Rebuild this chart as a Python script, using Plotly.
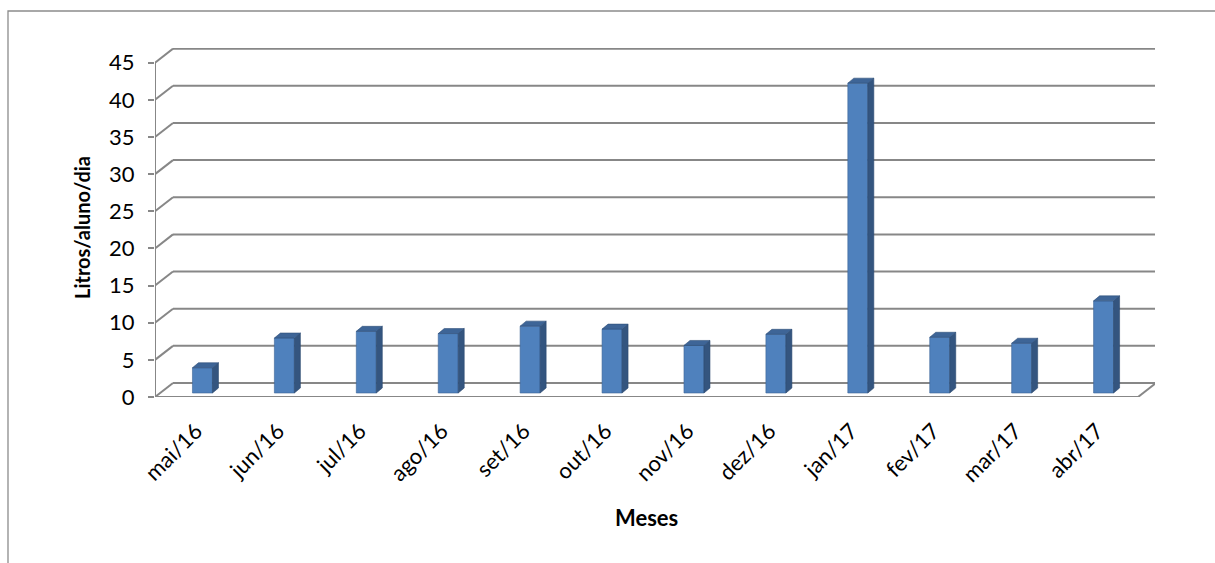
import plotly.graph_objects as go

# ---- data ----
months = ["mai/16", "jun/16", "jul/16", "ago/16", "set/16", "out/16",
          "nov/16", "dez/16", "jan/17", "fev/17", "mar/17", "abr/17"]
litros = [3.4, 7.4, 8.3, 8.0, 9.0, 8.6, 6.4, 7.9, 41.7, 7.5, 6.7, 12.4]
y_ticks = [0, 5, 10, 15, 20, 25, 30, 35, 40, 45]

# ---- geometry (pseudo 3-D, in axis units) ----
W, H = 1215, 563
L_PX, R_PX, T_PX, B_PX = 155, 1155, 48, 397
UX = 81.92          # px per category
UY = 7.43           # px per y unit
x_lo = -0.5
x_hi = x_lo + (R_PX - L_PX) / UX
y_hi = (B_PX - T_PX) / UY
DX, DY = 18 / UX, 14 / UY          # back-wall offset
BX, BY = 6.5 / UX, 4 / UY          # bar depth offset
BW = 20 / UX                       # bar front width
SX, SY = 6 / UX, 5 / UY            # bar side depth

n = len(months)
idx = list(range(n))

GRID = "#878787"
shapes = []
for v in y_ticks:
    shapes.append(dict(type="line", xref="x", yref="y", layer="below",
                       x0=x_lo + DX, x1=n - 0.5 + DX, y0=v + DY, y1=v + DY,
                       line=dict(color=GRID, width=2)))
    shapes.append(dict(type="line", xref="x", yref="y", layer="below",
                       x0=x_lo, x1=x_lo + DX, y0=v, y1=v + DY,
                       line=dict(color=GRID, width=2)))
# floor front edge and right edge
shapes.append(dict(type="line", xref="x", yref="y", layer="below",
                   x0=x_lo, x1=n - 0.5, y0=0, y1=0, line=dict(color=GRID, width=2)))
shapes.append(dict(type="line", xref="x", yref="y", layer="below",
                   x0=n - 0.5, x1=n - 0.5 + DX, y0=0, y1=DY, line=dict(color=GRID, width=2)))
# value axis line
shapes.append(dict(type="line", xref="x", yref="y", layer="below",
                   x0=x_lo, x1=x_lo, y0=0, y1=y_ticks[-1], line=dict(color=GRID, width=2)))
# outer chart border
shapes.append(dict(type="rect", xref="paper", yref="paper", layer="below",
                   x0=(8 - L_PX) / (R_PX - L_PX), x1=(W + 10 - L_PX) / (R_PX - L_PX),
                   y0=(B_PX - H - 10) / (B_PX - T_PX), y1=(B_PX - 11) / (B_PX - T_PX),
                   line=dict(color="#8c8c8c", width=1.3)))

fig = go.Figure()

# front faces
bx = [i + BX for i in idx]
fig.add_trace(go.Bar(x=bx, y=litros, base=BY, width=BW,
                     marker=dict(color="#4f81bd", line=dict(color="#3d6597", width=0.6)),
                     hoverinfo="skip", showlegend=False))

# side faces and tops
side_x, side_y, top_x, top_y = [], [], [], []
for c, v in zip(bx, litros):
    x1 = c + BW / 2
    x0 = c - BW / 2
    side_x += [x1, x1 + SX, x1 + SX, x1, x1, None]
    side_y += [BY, BY + SY, BY + v + SY, BY + v, BY, None]
    top_x += [x0, x0 + SX, x1 + SX, x1, x0, None]
    top_y += [BY + v, BY + v + SY, BY + v + SY, BY + v, BY + v, None]
fig.add_trace(go.Scatter(x=side_x, y=side_y, mode="lines", fill="toself",
                         fillcolor="#34557f", line=dict(color="#2c4a70", width=0.6),
                         hoverinfo="skip", showlegend=False))
fig.add_trace(go.Scatter(x=top_x, y=top_y, mode="lines", fill="toself",
                         fillcolor="#3e6597", line=dict(color="#2f4f78", width=0.6),
                         hoverinfo="skip", showlegend=False))

FONT = "Lato"
fig.update_layout(
    width=W, height=H,
    margin=dict(l=L_PX, r=W - R_PX, t=T_PX, b=H - B_PX, pad=0),
    paper_bgcolor="white", plot_bgcolor="white",
    font=dict(family=FONT, color="black"),
    showlegend=False,
    shapes=shapes,
    xaxis=dict(range=[x_lo, x_hi], tickvals=idx, ticktext=months, tickangle=-45,
               showgrid=False, zeroline=False, showline=False, ticks="",
               tickfont=dict(size=22, family=FONT), ticklabelstandoff=16),
    yaxis=dict(range=[0, y_hi], tickvals=y_ticks, showgrid=False, zeroline=False,
               showline=False, ticks="outside", ticklen=6, tickcolor=GRID, tickwidth=2,
               tickfont=dict(size=22, family=FONT), ticklabelstandoff=9),
    annotations=[
        dict(text="<b>Litros/aluno/dia</b>", xref="paper", yref="paper",
             x=(82 - L_PX) / (R_PX - L_PX), y=(B_PX - 228) / (B_PX - T_PX),
             textangle=-90, showarrow=False, font=dict(size=20, family=FONT),
             xanchor="center", yanchor="middle"),
        dict(text="<b>Meses</b>", xref="paper", yref="paper",
             x=(646 - L_PX) / (R_PX - L_PX), y=(B_PX - 517) / (B_PX - T_PX),
             showarrow=False, font=dict(size=22, family=FONT),
             xanchor="center", yanchor="middle"),
    ],
)

fig.write_html("out.html")
